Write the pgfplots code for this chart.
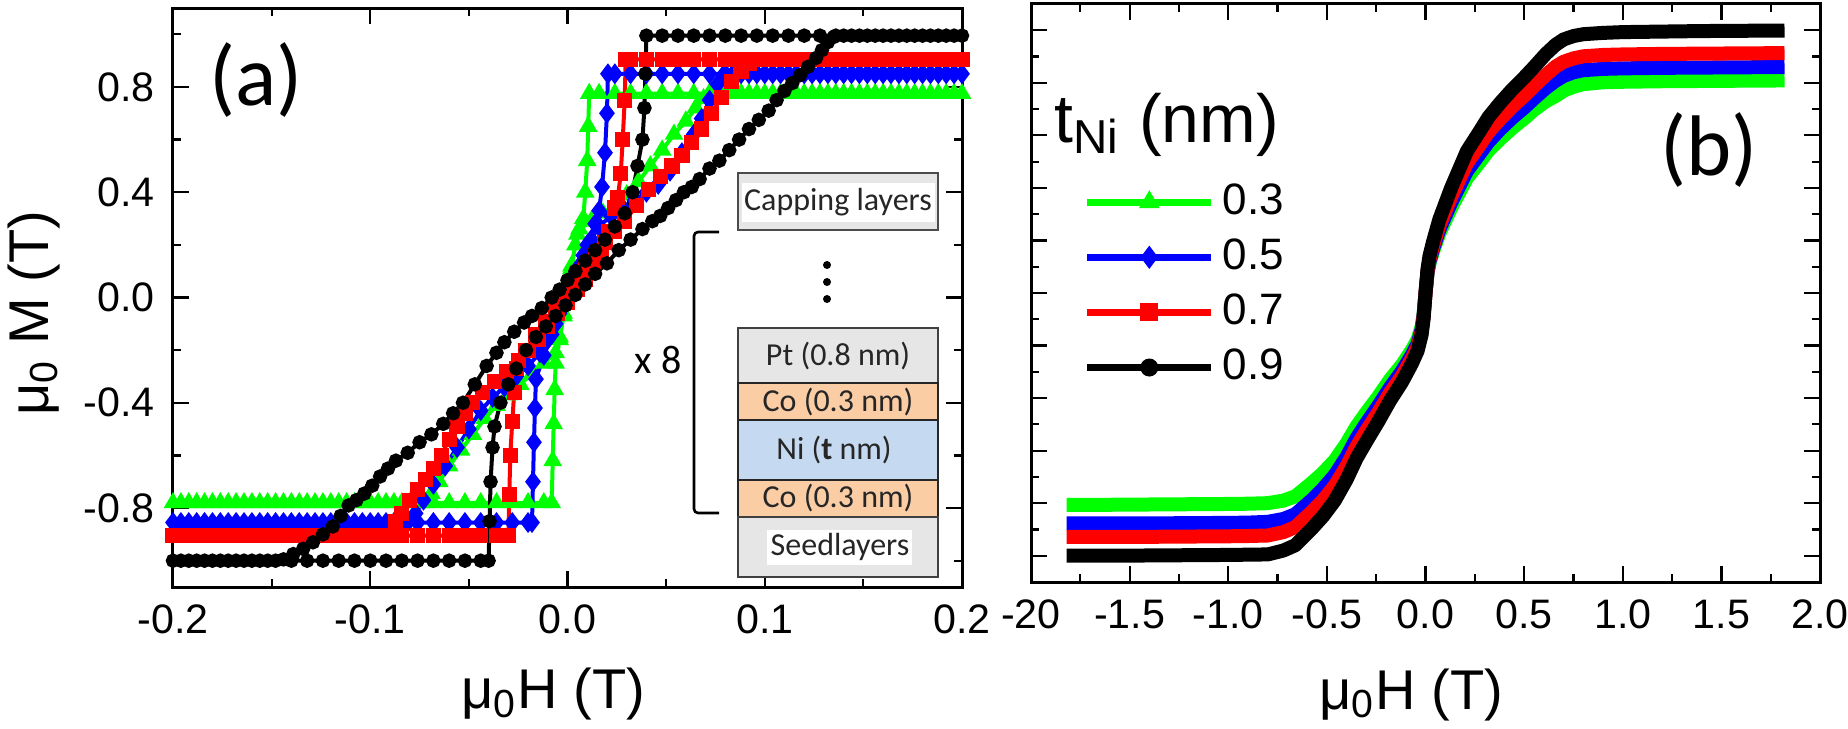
\documentclass[border=0pt]{standalone}
\usepackage{fontspec}
\setmainfont{Liberation Sans}
\newfontfamily\calibri{Carlito}
\usepackage{pgfplots}
\pgfplotsset{compat=1.18}
\definecolor{cgreen}{RGB}{0,255,0}
\definecolor{cblue}{RGB}{0,0,255}
\definecolor{cred}{RGB}{255,0,0}
\definecolor{layergray}{RGB}{230,230,230}
\definecolor{coorange}{RGB}{250,205,165}
\definecolor{niblue}{RGB}{197,217,240}
\pgfplotsset{
  myaxis/.style={
    scale only axis,
    axis line style={line width=0.75pt},
    tick align=inside,
    major tick length=4pt,
    minor tick length=2pt,
    every tick/.style={line width=0.55pt, black},
    tick label style={font=\fontsize{10.3}{12}\selectfont},
    label style={font=\fontsize{14}{16}\selectfont},
    xticklabel style={yshift=-1pt},
    yticklabel style={xshift=-1pt},
  }
}
\begin{document}
\begin{tikzpicture}
\useasboundingbox (0pt,0pt) rectangle (462pt,182pt);
% ---------------- panel (a)
\begin{axis}[myaxis, at={(43.25pt,35.25pt)}, anchor=south west,
  width=197.25pt, height=144.75pt,
  xmin=-0.2, xmax=0.2, ymin=-1.1, ymax=1.1,
  xtick={-0.2,-0.1,0,0.1,0.2}, xticklabels={-0.2,-0.1,0.0,0.1,0.2},
  minor xtick={-0.15,-0.05,0.05,0.15},
  ytick={-0.8,-0.4,0,0.4,0.8}, yticklabels={-0.8,-0.4,0.0,0.4,0.8},
  minor ytick={-1,-0.6,-0.2,0.2,0.6,1},
  xlabel={μ\textsubscript{0}H (T)}, ylabel={μ\textsubscript{0} M (T)},
  xlabel style={at={(axis description cs:0.482,-0.185)}, anchor=center},
  ylabel style={at={(axis description cs:-0.176,0.473)}, anchor=center},
]
\addplot[cgreen, line width=1pt, mark=triangle*, mark size=1.7pt] coordinates {
(0.2,0.775)(0.192,0.775)(0.184,0.775)(0.176,0.775)(0.168,0.775)(0.16,0.775)(0.152,0.775)(0.144,0.775)(0.136,0.775)(0.128,0.775)(0.12,0.775)(0.112,0.775)(0.104,0.775)(0.096,0.775)(0.088,0.775)(0.08,0.775)(0.072,0.775)(0.064,0.775)(0.056,0.775)(0.048,0.775)(0.04,0.775)(0.032,0.775)(0.024,0.775)(0.016,0.775)
(0.011,0.775)(0.0105,0.65)(0.010,0.52)(0.009,0.40)(0.008,0.30)(0.005,0.24)
(0.002,0.12)(0.0,0.03)(-0.002,-0.06)(-0.004,-0.15)(-0.006,-0.21)
(-0.012,-0.25)(-0.018,-0.29)(-0.024,-0.33)(-0.030,-0.37)(-0.036,-0.41)(-0.042,-0.46)(-0.048,-0.52)(-0.054,-0.58)(-0.060,-0.64)(-0.065,-0.70)(-0.069,-0.745)(-0.072,-0.78)
(-0.08,-0.78)(-0.088,-0.78)(-0.096,-0.78)(-0.104,-0.78)(-0.112,-0.78)(-0.12,-0.78)(-0.128,-0.78)(-0.136,-0.78)(-0.144,-0.78)(-0.152,-0.78)(-0.16,-0.78)(-0.168,-0.78)(-0.176,-0.78)(-0.184,-0.78)(-0.192,-0.78)(-0.2,-0.78)
(-0.196,-0.78)(-0.188,-0.78)(-0.18,-0.78)(-0.172,-0.78)(-0.164,-0.78)(-0.156,-0.78)(-0.148,-0.78)(-0.14,-0.78)(-0.132,-0.78)(-0.124,-0.78)(-0.116,-0.78)(-0.108,-0.78)(-0.1,-0.78)(-0.092,-0.78)(-0.084,-0.78)(-0.076,-0.78)(-0.068,-0.78)(-0.06,-0.78)(-0.052,-0.78)(-0.044,-0.78)(-0.036,-0.78)(-0.028,-0.78)(-0.02,-0.78)(-0.012,-0.78)
(-0.008,-0.78)(-0.0075,-0.62)(-0.007,-0.48)(-0.0065,-0.35)(-0.006,-0.25)
(-0.004,-0.16)(-0.002,-0.07)(0.0,0.02)(0.002,0.11)(0.004,0.20)(0.006,0.26)
(0.012,0.29)(0.018,0.32)(0.024,0.35)(0.030,0.39)(0.036,0.44)(0.042,0.50)(0.048,0.56)(0.054,0.62)(0.060,0.67)(0.065,0.72)(0.069,0.755)(0.072,0.775)
(0.076,0.775)(0.084,0.775)(0.092,0.775)(0.1,0.775)(0.108,0.775)(0.116,0.775)(0.124,0.775)(0.132,0.775)(0.14,0.775)(0.148,0.775)(0.156,0.775)(0.164,0.775)(0.172,0.775)(0.18,0.775)(0.188,0.775)(0.196,0.775)
};
\addplot[cblue, line width=1pt, mark=diamond*, mark size=1.8pt] coordinates {
(0.2,0.85)(0.192,0.85)(0.184,0.85)(0.176,0.85)(0.168,0.85)(0.16,0.85)(0.152,0.85)(0.144,0.85)(0.136,0.85)(0.128,0.85)(0.12,0.85)(0.112,0.85)(0.104,0.85)(0.096,0.85)(0.088,0.85)(0.08,0.85)(0.072,0.85)(0.064,0.85)(0.056,0.85)(0.048,0.85)(0.04,0.85)(0.032,0.85)(0.024,0.85)
(0.0205,0.85)(0.020,0.70)(0.019,0.55)(0.0175,0.42)(0.016,0.33)(0.014,0.28)
(0.010,0.20)(0.006,0.12)(0.002,0.04)(-0.002,-0.03)(-0.006,-0.10)(-0.010,-0.16)(-0.014,-0.21)(-0.020,-0.26)(-0.026,-0.30)(-0.032,-0.34)(-0.038,-0.38)(-0.044,-0.43)(-0.050,-0.50)(-0.056,-0.57)(-0.062,-0.64)(-0.068,-0.71)(-0.073,-0.77)(-0.077,-0.82)(-0.081,-0.855)
(-0.088,-0.855)(-0.096,-0.855)(-0.104,-0.855)(-0.112,-0.855)(-0.12,-0.855)(-0.128,-0.855)(-0.136,-0.855)(-0.144,-0.855)(-0.152,-0.855)(-0.16,-0.855)(-0.168,-0.855)(-0.176,-0.855)(-0.184,-0.855)(-0.192,-0.855)(-0.2,-0.855)
(-0.196,-0.855)(-0.188,-0.855)(-0.18,-0.855)(-0.172,-0.855)(-0.164,-0.855)(-0.156,-0.855)(-0.148,-0.855)(-0.14,-0.855)(-0.132,-0.855)(-0.124,-0.855)(-0.116,-0.855)(-0.108,-0.855)(-0.1,-0.855)(-0.092,-0.855)(-0.084,-0.855)(-0.076,-0.855)(-0.068,-0.855)(-0.06,-0.855)(-0.052,-0.855)(-0.044,-0.855)(-0.036,-0.855)(-0.028,-0.855)(-0.02,-0.855)
(-0.018,-0.855)(-0.0175,-0.70)(-0.017,-0.55)(-0.0165,-0.42)(-0.016,-0.31)
(-0.012,-0.22)(-0.008,-0.14)(-0.004,-0.06)(0.0,0.02)(0.004,0.09)(0.008,0.16)(0.012,0.22)(0.016,0.27)
(0.022,0.31)(0.028,0.34)(0.034,0.37)(0.040,0.40)(0.046,0.43)(0.052,0.48)(0.058,0.55)(0.064,0.62)(0.068,0.68)(0.072,0.75)(0.076,0.81)(0.079,0.845)
(0.084,0.85)(0.092,0.85)(0.1,0.85)(0.108,0.85)(0.116,0.85)(0.124,0.85)(0.132,0.85)(0.14,0.85)(0.148,0.85)(0.156,0.85)(0.164,0.85)(0.172,0.85)(0.18,0.85)(0.188,0.85)(0.196,0.85)
};
\addplot[cred, line width=1pt, mark=square*, mark size=1.4pt] coordinates {
(0.2,0.905)(0.192,0.905)(0.184,0.905)(0.176,0.905)(0.168,0.905)(0.16,0.905)(0.152,0.905)(0.144,0.905)(0.136,0.905)(0.128,0.905)(0.12,0.905)(0.112,0.905)(0.104,0.905)(0.096,0.905)(0.088,0.905)(0.08,0.905)(0.072,0.905)(0.064,0.905)(0.056,0.905)(0.048,0.905)(0.04,0.905)(0.032,0.905)
(0.0295,0.905)(0.029,0.75)(0.028,0.60)(0.027,0.47)(0.0255,0.38)(0.024,0.34)
(0.021,0.25)(0.017,0.18)(0.013,0.12)(0.009,0.07)(0.005,0.03)(0.0,-0.02)(-0.005,-0.06)(-0.010,-0.11)(-0.015,-0.16)(-0.020,-0.20)(-0.025,-0.24)(-0.031,-0.28)(-0.037,-0.32)(-0.043,-0.36)(-0.048,-0.40)(-0.052,-0.44)(-0.056,-0.49)(-0.060,-0.54)(-0.064,-0.60)(-0.068,-0.65)(-0.072,-0.69)(-0.076,-0.73)(-0.080,-0.77)(-0.084,-0.82)(-0.087,-0.85)(-0.089,-0.905)
(-0.096,-0.905)(-0.104,-0.905)(-0.112,-0.905)(-0.12,-0.905)(-0.128,-0.905)(-0.136,-0.905)(-0.144,-0.905)(-0.152,-0.905)(-0.16,-0.905)(-0.168,-0.905)(-0.176,-0.905)(-0.184,-0.905)(-0.192,-0.905)(-0.2,-0.905)
(-0.196,-0.905)(-0.188,-0.905)(-0.18,-0.905)(-0.172,-0.905)(-0.164,-0.905)(-0.156,-0.905)(-0.148,-0.905)(-0.14,-0.905)(-0.132,-0.905)(-0.124,-0.905)(-0.116,-0.905)(-0.108,-0.905)(-0.1,-0.905)(-0.092,-0.905)(-0.084,-0.905)(-0.076,-0.905)(-0.068,-0.905)(-0.06,-0.905)(-0.052,-0.905)(-0.044,-0.905)(-0.036,-0.905)
(-0.030,-0.905)(-0.0295,-0.75)(-0.029,-0.60)(-0.028,-0.47)(-0.027,-0.36)(-0.026,-0.27)
(-0.021,-0.20)(-0.016,-0.14)(-0.011,-0.09)(-0.006,-0.04)(-0.001,0.01)(0.004,0.06)(0.009,0.11)(0.014,0.16)(0.019,0.21)(0.024,0.25)(0.029,0.29)(0.035,0.35)(0.041,0.41)(0.047,0.46)(0.053,0.50)(0.058,0.54)(0.063,0.59)(0.068,0.64)(0.073,0.70)(0.078,0.76)(0.083,0.82)(0.088,0.86)(0.092,0.89)(0.096,0.905)
(0.1,0.905)(0.108,0.905)(0.116,0.905)(0.124,0.905)(0.132,0.905)(0.14,0.905)(0.148,0.905)(0.156,0.905)(0.164,0.905)(0.172,0.905)(0.18,0.905)(0.188,0.905)(0.196,0.905)
};
\addplot[black, line width=1pt, mark=*, mark size=1.3pt] coordinates {
(0.2,0.995)(0.192,0.995)(0.184,0.995)(0.176,0.995)(0.168,0.995)(0.16,0.995)(0.152,0.995)(0.144,0.995)(0.136,0.995)(0.128,0.995)(0.12,0.995)(0.112,0.995)(0.104,0.995)(0.096,0.995)(0.088,0.995)(0.08,0.995)(0.072,0.995)(0.064,0.995)(0.056,0.995)(0.048,0.995)
(0.040,0.995)(0.0395,0.85)(0.039,0.72)(0.038,0.60)(0.0355,0.50)
(0.033,0.40)(0.029,0.32)(0.024,0.27)(0.019,0.22)(0.014,0.18)(0.009,0.14)(0.004,0.10)(0.0,0.066)(-0.004,0.03)(-0.008,0.0)(-0.013,-0.04)(-0.018,-0.07)(-0.022,-0.095)(-0.027,-0.13)(-0.032,-0.17)(-0.036,-0.21)(-0.041,-0.26)(-0.047,-0.33)(-0.053,-0.40)(-0.058,-0.44)(-0.063,-0.48)(-0.069,-0.52)(-0.075,-0.55)(-0.081,-0.59)(-0.087,-0.62)(-0.091,-0.65)(-0.095,-0.68)(-0.099,-0.715)(-0.103,-0.745)(-0.107,-0.77)(-0.111,-0.79)(-0.115,-0.83)(-0.119,-0.87)(-0.124,-0.90)(-0.129,-0.93)(-0.134,-0.955)(-0.139,-0.975)(-0.144,-0.995)
(-0.152,-1.0)(-0.16,-1.0)(-0.168,-1.0)(-0.176,-1.0)(-0.184,-1.0)(-0.192,-1.0)(-0.2,-1.0)
(-0.196,-1.0)(-0.188,-1.0)(-0.18,-1.0)(-0.172,-1.0)(-0.164,-1.0)(-0.156,-1.0)(-0.148,-1.0)(-0.14,-1.0)(-0.132,-1.0)(-0.124,-1.0)(-0.116,-1.0)(-0.108,-1.0)(-0.1,-1.0)(-0.092,-1.0)(-0.084,-1.0)(-0.076,-1.0)(-0.068,-1.0)(-0.06,-1.0)(-0.052,-1.0)(-0.044,-1.0)
(-0.040,-1.0)(-0.0395,-0.85)(-0.039,-0.70)(-0.038,-0.57)(-0.037,-0.49)
(-0.034,-0.40)(-0.030,-0.33)(-0.026,-0.27)(-0.021,-0.20)(-0.016,-0.15)(-0.011,-0.11)(-0.006,-0.07)(-0.001,-0.03)(0.004,0.01)(0.009,0.05)(0.014,0.09)(0.020,0.13)(0.026,0.18)(0.032,0.22)(0.038,0.26)(0.043,0.29)(0.047,0.31)(0.051,0.34)(0.055,0.37)(0.059,0.40)(0.063,0.42)(0.067,0.45)(0.072,0.49)(0.077,0.52)(0.082,0.56)(0.087,0.60)(0.092,0.64)(0.097,0.675)(0.102,0.71)(0.106,0.75)(0.110,0.785)(0.114,0.815)(0.118,0.845)(0.122,0.877)(0.126,0.91)(0.129,0.94)(0.132,0.97)(0.135,0.99)
(0.14,0.995)(0.148,0.995)(0.156,0.995)(0.164,0.995)(0.172,0.995)(0.18,0.995)(0.188,0.995)(0.196,0.995)
};
\node[font=\calibri\fontsize{21.5}{24}\selectfont] at (axis description cs:0.105,0.876) {(a)};
\end{axis}
% inset: layer stack
\begin{scope}[line width=0.6pt]
\draw[draw=black!70, fill=layergray] (184.5pt,124.5pt) rectangle (234.5pt,138.75pt);
\fill[white] (185.5pt,126.5pt) rectangle (233.75pt,136.25pt);
\node[font=\calibri\fontsize{8}{9}\selectfont, text=black!85] at (209.5pt,131.4pt) {Capping layers};
\fill (206.75pt,115.75pt) circle (1pt);
\fill (206.75pt,111.5pt) circle (1pt);
\fill (206.75pt,107.25pt) circle (1pt);
\draw[draw=black!75, fill=layergray] (184.5pt,86.25pt) rectangle (234.5pt,100pt);
\node[font=\calibri\fontsize{8}{9}\selectfont, text=black!85] at (209.5pt,93.1pt) {Pt (0.8 nm)};
\draw[draw=black!85, fill=coorange] (184.5pt,77pt) rectangle (234.5pt,86.25pt);
\node[font=\calibri\fontsize{8}{9}\selectfont, text=black!85] at (209.5pt,81.6pt) {Co (0.3 nm)};
\draw[draw=black!85, fill=niblue] (184.5pt,62pt) rectangle (234.5pt,77pt);
\node[font=\calibri\fontsize{8}{9}\selectfont, text=black!85] at (208.5pt,69.5pt) {Ni (\textbf{t} nm)};
\draw[draw=black!85, fill=coorange] (184.5pt,52.75pt) rectangle (234.5pt,62pt);
\node[font=\calibri\fontsize{8}{9}\selectfont, text=black!85] at (209.5pt,57.4pt) {Co (0.3 nm)};
\draw[draw=black!75, fill=layergray] (184.5pt,37.75pt) rectangle (234.5pt,52.75pt);
\fill[white] (191.75pt,40.75pt) rectangle (228pt,49.5pt);
\node[font=\calibri\fontsize{8}{9}\selectfont, text=black!85] at (210pt,45.2pt) {Seedlayers};
\draw[line width=0.65pt, rounded corners=1pt] (179.75pt,124pt) -- (173.5pt,124pt) -- (173.5pt,53.75pt) -- (179.75pt,53.75pt);
\node[font=\calibri\fontsize{10}{12}\selectfont] at (164.5pt,92pt) {x 8};
\end{scope}
% ---------------- panel (b)
\begin{axis}[myaxis, at={(257.75pt,36.5pt)}, anchor=south west,
  width=197.25pt, height=144.5pt,
  xmin=-2, xmax=2, ymin=-1.1, ymax=1.1,
  xtick={-2,-1.5,-1,-0.5,0,0.5,1,1.5,2},
  xticklabels={-20,-1.5,-1.0,-0.5,0.0,0.5,1.0,1.5,2.0},
  minor xtick={-1.75,-1.25,-0.75,-0.25,0.25,0.75,1.25,1.75},
  ytick={-1,-0.8,-0.6,-0.4,-0.2,0,0.2,0.4,0.6,0.8,1}, yticklabels={},
  minor ytick={-0.9,-0.7,-0.5,-0.3,-0.1,0.1,0.3,0.5,0.7,0.9},
  xlabel={μ\textsubscript{0}H (T)},
  xlabel style={at={(axis description cs:0.482,-0.195)}, anchor=center},
  legend style={at={(axis description cs:0.0507,0.718)}, anchor=north west, draw=none, fill=none,
    font=\fontsize{11}{13}\selectfont, row sep=0.6pt, legend cell align=left},
  legend image code/.code={
    \draw[#1, line width=1.75pt] (0pt,0pt) -- (31pt,0pt);
    \draw[#1, line width=0.5pt] plot coordinates {(15.5pt,0pt)};
  },
]
\addlegendimage{cgreen, mark=triangle*, mark size=2.5pt}
\addlegendentry{0.3}
\addlegendimage{cblue, mark=diamond*, mark size=2.5pt}
\addlegendentry{0.5}
\addlegendimage{cred, mark=square*, mark size=2pt}
\addlegendentry{0.7}
\addlegendimage{black, mark=*, mark size=2pt}
\addlegendentry{0.9}
\addplot[cgreen, line width=3.5pt, line join=round, forget plot] coordinates {
(-1.82,-0.806)(-1.6,-0.806)(-1.4,-0.805)(-1.2,-0.804)(-1.0,-0.803)(-0.9,-0.802)(-0.8,-0.80)(-0.72,-0.79)(-0.66,-0.774)(-0.58,-0.725)(-0.52,-0.685)(-0.46,-0.637)(-0.40,-0.572)(-0.35,-0.508)(-0.30,-0.455)(-0.24,-0.395)(-0.18,-0.33)(-0.12,-0.274)(-0.07,-0.218)(-0.04,-0.177)(-0.02,-0.129)(-0.01,-0.081)(0,0)
(0.01,0.073)(0.02,0.113)(0.04,0.162)(0.07,0.227)(0.13,0.324)(0.21,0.437)(0.27,0.494)(0.32,0.543)(0.38,0.587)(0.44,0.628)(0.50,0.664)(0.55,0.697)(0.61,0.73)(0.66,0.75)(0.70,0.77)(0.75,0.785)(0.8,0.795)(0.9,0.802)(1.0,0.804)(1.2,0.806)(1.4,0.807)(1.6,0.808)(1.82,0.809)
};
\addplot[cblue, line width=3.5pt, line join=round, forget plot] coordinates {
(-1.82,-0.877)(-1.6,-0.877)(-1.4,-0.877)(-1.2,-0.876)(-1.0,-0.875)(-0.9,-0.874)(-0.8,-0.871)(-0.72,-0.86)(-0.66,-0.842)(-0.58,-0.79)(-0.52,-0.745)(-0.46,-0.693)(-0.40,-0.623)(-0.35,-0.553)(-0.30,-0.495)(-0.24,-0.43)(-0.18,-0.36)(-0.12,-0.298)(-0.07,-0.237)(-0.04,-0.193)(-0.02,-0.14)(-0.01,-0.088)(0,0)
(0.01,0.077)(0.02,0.12)(0.04,0.172)(0.07,0.241)(0.13,0.344)(0.21,0.464)(0.27,0.525)(0.32,0.576)(0.38,0.624)(0.44,0.667)(0.50,0.705)(0.55,0.74)(0.61,0.78)(0.66,0.808)(0.70,0.826)(0.75,0.84)(0.8,0.848)(0.9,0.853)(1.0,0.855)(1.2,0.857)(1.4,0.858)(1.6,0.859)(1.82,0.86)
};
\addplot[cred, line width=3.5pt, line join=round, forget plot] coordinates {
(-1.82,-0.928)(-1.6,-0.928)(-1.4,-0.928)(-1.2,-0.927)(-1.0,-0.926)(-0.9,-0.925)(-0.8,-0.923)(-0.72,-0.91)(-0.66,-0.891)(-0.58,-0.835)(-0.52,-0.789)(-0.46,-0.733)(-0.40,-0.659)(-0.35,-0.585)(-0.30,-0.524)(-0.24,-0.455)(-0.18,-0.38)(-0.12,-0.316)(-0.07,-0.25)(-0.04,-0.204)(-0.02,-0.148)(-0.01,-0.093)(0,0)
(0.01,0.082)(0.02,0.128)(0.04,0.183)(0.07,0.256)(0.13,0.366)(0.21,0.494)(0.27,0.558)(0.32,0.613)(0.38,0.663)(0.44,0.709)(0.50,0.75)(0.55,0.787)(0.61,0.83)(0.66,0.862)(0.70,0.88)(0.75,0.893)(0.8,0.901)(0.9,0.906)(1.0,0.908)(1.2,0.91)(1.4,0.911)(1.6,0.912)(1.82,0.913)
};
\addplot[black, line width=3.5pt, line join=round, forget plot] coordinates {
(-1.82,-1.0)(-1.6,-1.0)(-1.4,-0.999)(-1.2,-0.998)(-1.0,-0.997)(-0.9,-0.996)(-0.8,-0.995)(-0.72,-0.98)(-0.66,-0.96)(-0.58,-0.90)(-0.52,-0.85)(-0.46,-0.79)(-0.40,-0.71)(-0.35,-0.63)(-0.30,-0.565)(-0.24,-0.49)(-0.18,-0.41)(-0.12,-0.34)(-0.07,-0.27)(-0.04,-0.22)(-0.02,-0.16)(-0.01,-0.10)(0,0)
(0.01,0.09)(0.02,0.14)(0.04,0.2)(0.07,0.28)(0.13,0.40)(0.21,0.54)(0.27,0.61)(0.32,0.67)(0.38,0.725)(0.44,0.775)(0.50,0.82)(0.55,0.86)(0.61,0.91)(0.66,0.945)(0.70,0.965)(0.75,0.978)(0.8,0.985)(0.9,0.99)(1.0,0.993)(1.2,0.995)(1.4,0.997)(1.6,0.998)(1.82,0.999)
};
\node[font=\fontsize{17}{20}\selectfont] at (axis description cs:0.172,0.791) {t\textsubscript{Ni} (nm)};
\node[font=\calibri\fontsize{21.5}{24}\selectfont] at (axis description cs:0.859,0.747) {(b)};
\end{axis}
\end{tikzpicture}
\end{document}
